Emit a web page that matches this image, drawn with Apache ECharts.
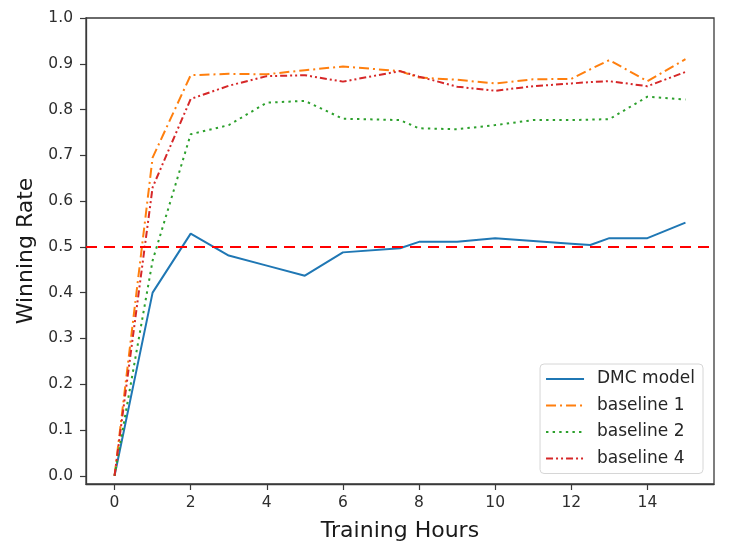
<!DOCTYPE html>
<html>
<head>
    <meta charset="UTF-8">
    <title>Winning Rate</title>
    <script src="https://cdn.jsdelivr.net/npm/echarts@6.0.0/dist/echarts.min.js"></script>
    <style>
        html, body { margin: 0; padding: 0; background: #fff; }
    </style>
</head>
<body>
    <div id="main" style="width: 747px; height: 551px;"></div>
    <script>
        // hours on the x axis, winning rate
        var hours = [0, 1, 2, 3, 4, 5, 6, 7.5, 8, 9, 10, 11, 12, 12.5, 13, 14, 15];
        var dmcModel = [0, 0.40, 0.529, 0.481, 0.459, 0.437, 0.488, 0.497, 0.511, 0.511, 0.519, 0.513, 0.507, 0.504, 0.519, 0.519, 0.553];
        var baseline1 = [0, 0.695, 0.875, 0.878, 0.877, 0.886, 0.894, 0.884, 0.870, 0.865, 0.857, 0.866, 0.867, 0.888, 0.908, 0.862, 0.910];
        var baseline2 = [0, 0.47, 0.746, 0.766, 0.815, 0.819, 0.780, 0.777, 0.759, 0.757, 0.766, 0.777, 0.777, 0.778, 0.779, 0.828, 0.822];
        var baseline4 = [0, 0.63, 0.823, 0.852, 0.873, 0.875, 0.861, 0.884, 0.872, 0.850, 0.841, 0.851, 0.857, 0.860, 0.862, 0.851, 0.882];
        var threshold = 0.5;

        var xTicks = [0, 2, 4, 6, 8, 10, 12, 14];
        var yTicks = [0, 0.1, 0.2, 0.3, 0.4, 0.5, 0.6, 0.7, 0.8, 0.9, 1.0];

        function pairs(vals) {
            return hours.map(function (h, i) { return [h, vals[i]]; });
        }

        var font = 'DejaVu Sans';
        var myChart = echarts.init(document.getElementById('main'));

        // series style: name, values, color, dash
        var lines = [
            ['DMC model', dmcModel, '#1f77b4', 'solid'],
            ['baseline 1', baseline1, '#ff7f0e', [10, 4, 2, 4]],
            ['baseline 2', baseline2, '#2ca02c', [2.4, 4.2]],
            ['baseline 4', baseline4, '#d62728', [7, 3, 2, 3, 2, 3]]
        ];

        var series = lines.map(function (l) {
            return {
                name: l[0],
                type: 'line',
                data: pairs(l[1]),
                symbol: 'none',
                color: l[2],
                lineStyle: { color: l[2], width: 2, type: l[3] },
                z: 3
            };
        });
        // red dashed 0.5 line
        series.push({
            name: 'threshold',
            type: 'line',
            data: [],
            silent: true,
            markLine: {
                silent: true,
                symbol: 'none',
                animation: false,
                label: { show: false },
                lineStyle: { color: '#ff0000', width: 2.2, type: [11, 7] },
                data: [{ yAxis: threshold }]
            },
            z: 2
        });

        var option = {
            animation: false,
            textStyle: { fontFamily: font },
            grid: {
                left: 86, right: 33, top: 18, bottom: 67,
                show: true,
                borderColor: '#3a3a3a',
                borderWidth: 1.3,
                backgroundColor: 'transparent'
            },
            legend: {
                data: ['DMC model', 'baseline 1', 'baseline 2', 'baseline 4'],
                orient: 'vertical',
                right: 44,
                top: 364,
                itemWidth: 38,
                itemHeight: 14,
                itemGap: 6.5,
                padding: [5, 8, 5, 5],
                backgroundColor: 'rgba(255,255,255,0.8)',
                borderColor: '#d6d6d6',
                borderWidth: 1,
                borderRadius: 4,
                itemStyle: { opacity: 0, borderWidth: 0 },
                lineStyle: { opacity: 1 },
                textStyle: {
                    fontFamily: font, fontSize: 17, color: '#262626',
                    lineHeight: 20, padding: [0, 0, 0, 8]
                }
            },
            xAxis: {
                type: 'value',
                min: -0.75,
                max: 15.75,
                name: 'Training Hours',
                nameLocation: 'middle',
                nameGap: 36,
                nameTextStyle: { fontFamily: font, fontSize: 22, color: '#1a1a1a' },
                axisLine: { show: true, onZero: false, lineStyle: { color: '#3a3a3a', width: 1.3 } },
                axisTick: { show: true, inside: false, length: 6, customValues: xTicks, lineStyle: { color: '#3a3a3a', width: 1.2 } },
                axisLabel: { fontFamily: font, fontSize: 15.5, color: '#2e2e2e', margin: 11, customValues: xTicks },
                splitLine: { show: false }
            },
            yAxis: {
                type: 'value',
                min: -0.018,
                max: 1.0,
                name: 'Winning Rate',
                nameLocation: 'middle',
                nameGap: 47,
                nameTextStyle: { fontFamily: font, fontSize: 22, color: '#1a1a1a' },
                axisLine: { show: true, onZero: false, lineStyle: { color: '#3a3a3a', width: 1.3 } },
                axisTick: { show: true, inside: false, length: 6, customValues: yTicks, lineStyle: { color: '#3a3a3a', width: 1.2 } },
                axisLabel: {
                    fontFamily: font, fontSize: 15.5, color: '#2e2e2e', margin: 13,
                    customValues: yTicks,
                    formatter: function (v) { return v.toFixed(1); }
                },
                splitLine: { show: false }
            },
            series: series
        };

        myChart.setOption(option);
    </script>
</body>
</html>
